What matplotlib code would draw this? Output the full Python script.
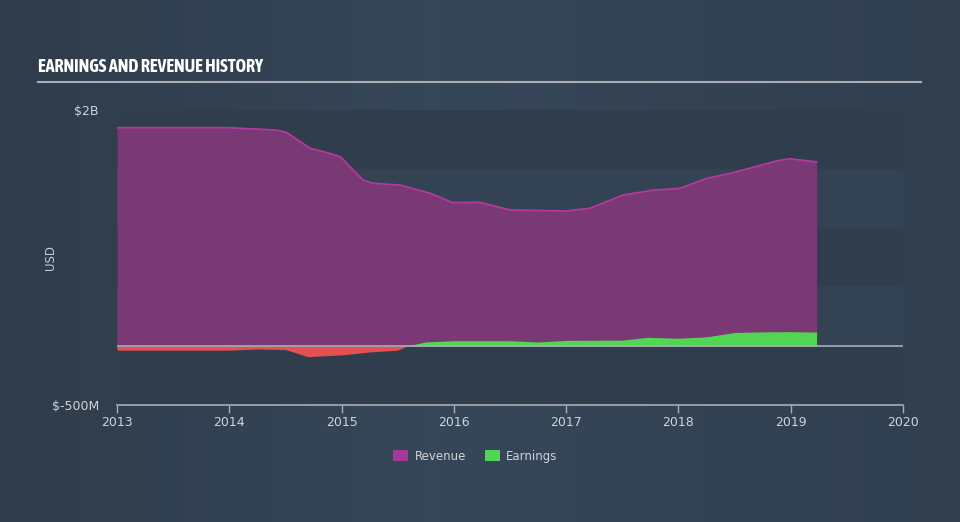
import numpy as np
import matplotlib
matplotlib.use("Agg")
from matplotlib import pyplot as plt
from matplotlib import font_manager
from matplotlib.patches import Patch

# revenue history, in $B
rev_t = [2013.0, 2014.0, 2014.42, 2014.51, 2014.72, 2014.84, 2014.99, 2015.19, 2015.28,
         2015.52, 2015.79, 2015.99, 2016.23, 2016.5, 2017.0, 2017.21, 2017.51, 2017.77,
         2018.01, 2018.25, 2018.49, 2018.88, 2018.99, 2019.23]
rev_v = [1.85, 1.85, 1.83, 1.81, 1.675, 1.647, 1.604, 1.407, 1.379,
         1.364, 1.294, 1.215, 1.218, 1.153, 1.144, 1.167, 1.28, 1.32,
         1.336, 1.42, 1.47, 1.57, 1.587, 1.56]

# earnings history, in $B
earn_t = [2013.0, 2014.0, 2014.25, 2014.5, 2014.7, 2015.0, 2015.25, 2015.5, 2015.58,
          2015.75, 2016.0, 2016.5, 2016.75, 2017.0, 2017.5, 2017.72, 2018.0, 2018.25,
          2018.5, 2018.75, 2019.0, 2019.23]
earn_v = [-0.035, -0.035, -0.025, -0.03, -0.09, -0.075, -0.05, -0.035, 0.0,
          0.035, 0.045, 0.045, 0.034, 0.048, 0.05, 0.074, 0.066, 0.078,
          0.115, 0.12, 0.122, 0.118]

year_ticks = [2013, 2014, 2015, 2016, 2017, 2018, 2019, 2020]
y_ticks = [-0.5, 2.0]
y_labels = ["$-500M", "$2B"]

# look for a narrow font for the title, bold if there is one
narrow, narrow_bold = None, False
for f in font_manager.fontManager.ttflist:
    n = f.name.lower()
    if "narrow" in n or "condensed" in n:
        w = f.weight if isinstance(f.weight, int) else 400
        if narrow is None or (w >= 600 and not narrow_bold):
            narrow = f.name
            narrow_bold = w >= 600

fig = plt.figure(figsize=(9.6, 5.22), dpi=100)
fig.patch.set_facecolor("#334354")

# soft horizontal gradient behind everything
bg = fig.add_axes([0, 0, 1, 1], zorder=-10)
xs = np.linspace(0, 1, 200)
grad = np.array([np.interp(xs, [0, 0.45, 1], [0.0, 1.0, 0.3])])
bg.imshow(grad, aspect="auto", extent=[0, 1, 0, 1], interpolation="bilinear",
          cmap=matplotlib.colors.LinearSegmentedColormap.from_list("bg", ["#2f3c4b", "#364759"]))
bg.axis("off")

ax = fig.add_axes([0.1219, 0.2241, 0.8188, 0.5651])
ax.set_facecolor("none")
ax.set_xlim(2013, 2020)
ax.set_ylim(-0.5, 2.0)

# alternating bands
for i, lo in enumerate(np.arange(-0.5, 2.0, 0.5)):
    ax.axhspan(lo, lo + 0.5, color="#2f3d4c" if i % 2 == 0 else "#334354", zorder=0, lw=0)

rt = np.array(rev_t); rv = np.array(rev_v)
et = np.array(earn_t); ev = np.array(earn_v)

ax.fill_between(rt, 0, rv, color="#7a3875", lw=0, zorder=2)
ax.plot(rt, rv, color="#b23a9c", lw=1.3, zorder=3, solid_joinstyle="round")

ax.fill_between(et, 0, ev, where=ev >= 0, interpolate=True, color="#51d653", lw=0, zorder=4)
ax.fill_between(et, 0, ev, where=ev <= 0, interpolate=True, color="#e84f50", lw=0, zorder=4)
ax.axhline(0, color="#a7aeb5", lw=1.2, zorder=5)

for s in ["top", "right", "left"]:
    ax.spines[s].set_visible(False)
ax.spines["bottom"].set_color("#a7aeb5")
ax.spines["bottom"].set_linewidth(1.2)

ax.set_xticks(year_ticks)
ax.set_xticklabels([str(y) for y in year_ticks])
ax.tick_params(axis="x", colors="#a7aeb5", labelcolor="#d0d4d8", length=6, width=1, labelsize=9, pad=2)
ax.set_yticks(y_ticks)
ax.set_yticklabels(y_labels)
ax.tick_params(axis="y", length=0, labelcolor="#d0d4d8", labelsize=9, pad=13)
ax.set_ylabel("USD", color="#c8ccd0", fontsize=8.5)
ax.yaxis.set_label_coords(-0.076, 0.5)

if narrow:
    fig.text(0.040, 0.872, "EARNINGS AND REVENUE HISTORY", color="white", fontsize=13,
             fontweight="bold", family=[narrow, "DejaVu Sans"], va="center")
else:
    fig.text(0.040, 0.872, "EARNINGS AND REVENUE HISTORY", color="white", fontsize=11,
             fontweight="bold", va="center")
fig.add_artist(plt.Line2D([0.040, 0.959], [0.843, 0.843], color="#a9aeb4", lw=1.5))

handles = [Patch(facecolor="#a8379a", label="Revenue"), Patch(facecolor="#51d653", label="Earnings")]
fig.legend(handles=handles, loc="center", bbox_to_anchor=(0.495, 0.126), ncol=2, frameon=False,
           labelcolor="#d0d4d8", fontsize=8.5, handlelength=1.3, handleheight=1.0,
           columnspacing=1.6, handletextpad=0.5)

fig.savefig("out.png", dpi=100, facecolor=fig.get_facecolor())
